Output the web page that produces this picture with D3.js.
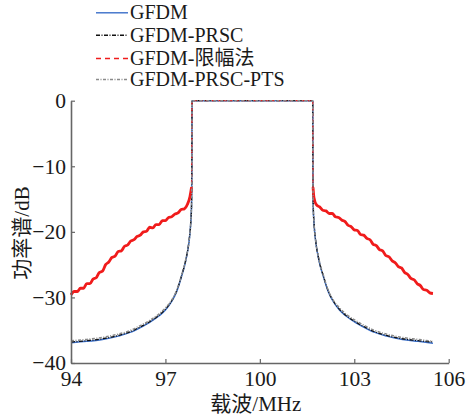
<!DOCTYPE html>
<html>
<head>
<meta charset="utf-8">
<script src="https://cdn.jsdelivr.net/npm/d3@7"></script>
<style>
  body { margin: 0; background: #fff; }
  text { font-family: "Liberation Serif", "Noto Sans CJK SC", serif; fill: #1a1a1a; }
</style>
</head>
<body>
<div id="chart"></div>
<script>
// frequency points (MHz) shared by the three OFDM-like curves
var freq = [94.0, 94.5, 95.0, 95.5, 95.9, 96.2, 96.5, 96.8, 97.0, 97.2, 97.35, 97.5, 97.65, 97.75, 97.8, 97.83, 97.84, 97.845,
            101.68, 101.685, 101.695, 101.725, 101.775, 101.875, 102.03, 102.18, 102.33, 102.53, 102.73, 103.03, 103.33, 103.63, 104.03, 104.53, 105.03, 105.5];
var gfdm = [-36.9, -36.7, -36.4, -35.9, -35.3, -34.6, -33.8, -32.8, -31.9, -30.6, -29.2, -27.0, -24.3, -21.5, -19.0, -16.0, -10.0, 0,
            0, -10.0, -16.0, -19.0, -21.5, -24.3, -27.0, -29.2, -30.6, -31.9, -32.8, -33.8, -34.6, -35.3, -35.9, -36.4, -36.7, -37.0];
var prsc = [-36.8, -36.6, -36.3, -35.8, -35.2, -34.5, -33.7, -32.7, -31.8, -30.5, -29.1, -26.9, -24.2, -21.4, -18.9, -15.9, -10.0, 0,
            0, -10.0, -15.9, -18.9, -21.4, -24.2, -26.9, -29.1, -30.5, -31.8, -32.7, -33.7, -34.5, -35.2, -35.8, -36.3, -36.6, -36.8];
var prscPts = [-36.6, -36.4, -36.1, -35.6, -35.0, -34.3, -33.5, -32.5, -31.6, -30.4, -29.0, -26.8, -24.1, -21.4, -18.9, -15.9, -10.0, 0,
               0, -10.0, -15.9, -18.9, -21.4, -24.1, -26.8, -29.0, -30.4, -31.6, -32.5, -33.5, -34.3, -35.0, -35.6, -36.1, -36.4, -36.7];

// clipping curve (noisy, read every 0.1 MHz)
var clipFreq = [94.0, 94.1, 94.2, 94.3, 94.4, 94.5, 94.6, 94.7, 94.8, 94.9, 95.0, 95.1, 95.2, 95.3, 95.4, 95.5, 95.6, 95.7, 95.8, 95.9,
                96.0, 96.1, 96.2, 96.3, 96.4, 96.5, 96.6, 96.7, 96.8, 96.9, 97.0, 97.1, 97.2, 97.3, 97.4, 97.5, 97.6, 97.7, 97.78, 97.83, 97.845,
                101.68, 101.69, 101.72, 101.8, 101.9, 102.0, 102.1, 102.2, 102.3, 102.4, 102.5, 102.6, 102.7, 102.8, 102.9, 103.0, 103.1, 103.2,
                103.3, 103.4, 103.5, 103.6, 103.7, 103.8, 103.9, 104.0, 104.1, 104.2, 104.3, 104.4, 104.5, 104.6, 104.7, 104.8, 104.9, 105.0,
                105.1, 105.2, 105.3, 105.4, 105.5];
var clipPsd = [-29.6, -29.1, -29.1, -28.6, -28.6, -27.9, -27.9, -27.2, -27.0, -26.2, -26.0, -25.0, -24.6, -23.9, -23.7, -23.0, -22.9, -22.2, -22.0, -21.4,
               -21.2, -20.7, -20.5, -20.0, -19.9, -19.3, -19.4, -18.9, -18.9, -18.3, -18.3, -17.8, -17.7, -17.3, -17.1, -16.6, -16.5, -15.8, -14.6, -13.2, 0,
               0, -13.2, -14.8, -15.9, -16.2, -16.7, -16.8, -17.2, -17.2, -17.7, -17.8, -18.2, -18.4, -19.0, -19.2, -19.7, -19.8, -20.4,
               -20.5, -21.0, -21.2, -21.9, -22.1, -22.7, -22.9, -23.6, -23.8, -24.4, -24.7, -25.3, -25.5, -26.2, -26.5, -27.1, -27.3, -27.9,
               -28.2, -28.8, -28.9, -29.3, -29.4];

var xTicks = [94, 97, 100, 103, 106];
var yTicks = [0, -10, -20, -30, -40];

var series = [
  {name: "GFDM", x: freq, y: gfdm, color: "#3a6fc9", dash: null, width: 1.5},
  {name: "GFDM-PRSC", x: freq, y: prsc, color: "#111111", dash: "4,1.5,1,1.5", width: 1.3},
  {name: "GFDM-限幅法", x: clipFreq, y: clipPsd, color: "#f01c1c", dash: "3,3", width: 1.3, noisy: true},
  {name: "GFDM-PRSC-PTS", x: freq, y: prscPts, color: "#8a8a8a", dash: "3,1.5,1,1.5", width: 1.5}
];

var width = 468, height = 416;
var plotLeft = 71, plotRight = 448.7, plotTop = 100.7, plotBottom = 363;
var bandLo = 97.845, bandHi = 101.68;

var svg = d3.select("#chart").append("svg")
    .attr("width", width)
    .attr("height", height);

var x = d3.scaleLinear().domain([94, 106]).range([plotLeft, plotRight]);
var y = d3.scaleLinear().domain([-40, 0]).range([plotBottom, plotTop]);

var line = d3.line()
    .x(d => x(d[0]))
    .y(d => y(d[1]))
    .curve(d3.curveMonotoneX);

series.forEach(function(s) {
  var pts = s.x.map((v, i) => [v, s.y[i]]);
  if (s.noisy) {
    // the noisy out-of-band skirts read as a thick solid trace
    [pts.filter(d => d[0] < bandLo), pts.filter(d => d[0] > bandHi)].forEach(function(part) {
      svg.append("path")
        .datum(part)
        .attr("d", line)
        .attr("fill", "none")
        .attr("stroke", s.color)
        .attr("stroke-width", 2.8)
        .attr("stroke-linejoin", "round");
    });
  }
  svg.append("path")
    .datum(pts)
    .attr("d", line)
    .attr("fill", "none")
    .attr("stroke", s.color)
    .attr("stroke-width", s.width)
    .attr("stroke-linejoin", "round")
    .attr("stroke-dasharray", s.dash);
});

// axes (ticks pointing inward)
var xAxis = svg.append("g")
    .attr("transform", "translate(0," + plotBottom + ")")
    .call(d3.axisBottom(x).tickValues(xTicks).tickSizeInner(-4).tickSizeOuter(0).tickPadding(8));
var yAxis = svg.append("g")
    .attr("transform", "translate(" + plotLeft + ",0)")
    .call(d3.axisLeft(y).tickValues(yTicks).tickSizeInner(-4).tickSizeOuter(0).tickPadding(5)
      .tickFormat(d => d < 0 ? "\u2212" + Math.abs(d) : d));

[xAxis, yAxis].forEach(function(a) {
  a.select(".domain").attr("stroke", "#666").attr("stroke-width", 1.6);
  a.selectAll(".tick line").attr("stroke", "#666").attr("stroke-width", 1.2);
  a.selectAll(".tick text")
    .style("font-family", "Liberation Serif")
    .style("font-size", "21.5px")
    .attr("fill", "#1a1a1a");
});
xAxis.selectAll(".tick text").attr("dy", "0.72em");

svg.append("text")
    .attr("x", (plotLeft + plotRight) / 2 - 4)
    .attr("y", 411)
    .attr("text-anchor", "middle")
    .style("font-size", "21px")
    .text("载波/MHz");

svg.append("text")
    .attr("transform", "translate(29,233) rotate(-90)")
    .attr("text-anchor", "middle")
    .style("font-size", "21px")
    .text("功率谱/dB");

// legend
var legendY = [12.8, 35.2, 58.5, 79.5];
var legend = svg.append("g");
series.forEach(function(s, i) {
  legend.append("line")
    .attr("x1", 96).attr("x2", 128)
    .attr("y1", legendY[i]).attr("y2", legendY[i])
    .attr("stroke", s.color)
    .attr("stroke-width", i == 2 ? 1.6 : 1.4)
    .attr("stroke-dasharray", i == 2 ? "5,4" : s.dash);
  legend.append("text")
    .attr("x", 130)
    .attr("y", legendY[i] + 6.3)
    .style("font-size", "20px")
    .text(s.name);
});
</script>
</body>
</html>
